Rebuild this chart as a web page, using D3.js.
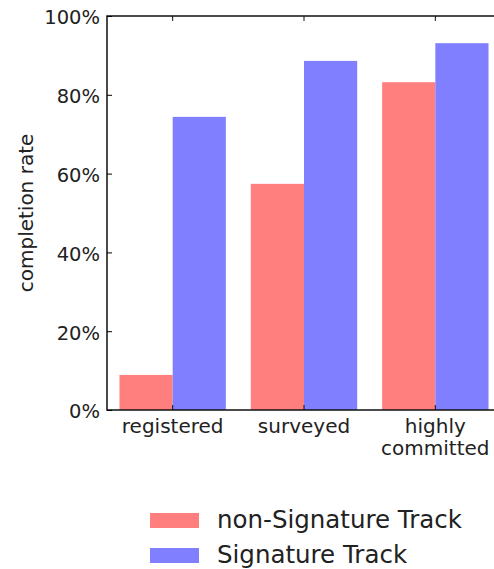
<!DOCTYPE html>
<html>
<head>
<meta charset="utf-8">
<script src="https://cdn.jsdelivr.net/npm/d3@7"></script>
<style>
    body { margin: 0; background: #fff; }
    text { font-family: "DejaVu Sans", sans-serif; fill: #222; }
</style>
</head>
<body>
<div id="chart"></div>
<script>
// categories and series
let categories = ["registered", "surveyed", "highly committed"];
let seriesNames = ["non-Signature Track", "Signature Track"];
let nonSignature = [0.089, 0.574, 0.832];
let signature = [0.744, 0.886, 0.931];
let yTicks = [0, 0.2, 0.4, 0.6, 0.8, 1.0];
let colors = ["#ff7f7f", "#7f7fff"];

let width = 494, height = 569;
let margin = {top: 16, left: 107, bottom: 159, right: -7};

let svg = d3.select("#chart").append("svg")
    .attr("width", width)
    .attr("height", height);

// x scale: one band per category, bars are half a band each side of center
let x = d3.scaleBand()
    .domain(categories)
    .range([margin.left, width - margin.right])
    .paddingInner(0.19)
    .paddingOuter(0.095);

let y = d3.scaleLinear()
    .domain([0, 1])
    .range([height - margin.bottom, margin.top]);

let barW = x.bandwidth() / 2;

let rows = categories.map((c, i) => ({cat: c, vals: [nonSignature[i], signature[i]]}));

let groups = svg.selectAll(".grp").data(rows)
    .enter().append("g")
    .attr("class", "grp");

groups.selectAll("rect").data(d => d.vals.map((v, j) => ({cat: d.cat, v: v, j: j})))
    .enter().append("rect")
    .attr("x", d => x(d.cat) + d.j * barW)
    .attr("width", barW)
    .attr("y", d => y(d.v))
    .attr("height", d => y(0) - y(d.v))
    .attr("fill", d => colors[d.j]);

// frame
let x0 = margin.left, x1 = width - margin.right, yTop = y(1), yBot = y(0);
svg.append("path")
    .attr("d", `M${x1},${yTop}H${x0}V${yBot}H${x1}`)
    .attr("fill", "none")
    .attr("stroke", "#111")
    .attr("stroke-width", 1.5);

// y axis, ticks inside
let yAxis = d3.axisLeft(y)
    .tickValues(yTicks)
    .tickFormat(d3.format(".0%"))
    .tickSizeInner(-5)
    .tickSizeOuter(0)
    .tickPadding(7);

let gy = svg.append("g")
    .attr("transform", `translate(${x0},0)`)
    .call(yAxis);
gy.select(".domain").remove();
gy.selectAll("text").style("font-size", "19.5px").attr("dy", "0.4em");

// x ticks top and bottom at category centers
let centers = categories.map(c => x(c) + x.bandwidth() / 2);
svg.selectAll(".tickb").data(centers).enter().append("line")
    .attr("x1", d => d).attr("x2", d => d)
    .attr("y1", yBot).attr("y2", yBot - 5)
    .attr("stroke", "#111");
svg.selectAll(".tickt").data(centers).enter().append("line")
    .attr("x1", d => d).attr("x2", d => d)
    .attr("y1", yTop).attr("y2", yTop + 5)
    .attr("stroke", "#111");

// category labels (wrap the long one)
svg.selectAll(".xlab").data(categories).enter().append("text")
    .attr("text-anchor", "middle")
    .attr("x", d => x(d) + x.bandwidth() / 2)
    .attr("y", yBot + 23)
    .style("font-size", "20px")
    .each(function(d) {
        let words = d.split(" ");
        let el = d3.select(this);
        words.forEach((w, i) => {
            el.append("tspan")
                .attr("x", x(d) + x.bandwidth() / 2)
                .attr("dy", i === 0 ? 0 : 22)
                .text(w);
        });
    });

// y axis label
svg.append("text")
    .attr("transform", `translate(33,${(yTop + yBot) / 2}) rotate(-90)`)
    .attr("text-anchor", "middle")
    .style("font-size", "20px")
    .text("completion rate");

// legend
let legend = svg.append("g").attr("transform", "translate(150,513)");
seriesNames.forEach((s, i) => {
    legend.append("rect")
        .attr("x", 0).attr("y", i * 35)
        .attr("width", 49).attr("height", 15)
        .attr("fill", colors[i]);
    legend.append("text")
        .attr("x", 67).attr("y", i * 35 + 15)
        .style("font-size", "24.5px")
        .text(s);
});
</script>
</body>
</html>
